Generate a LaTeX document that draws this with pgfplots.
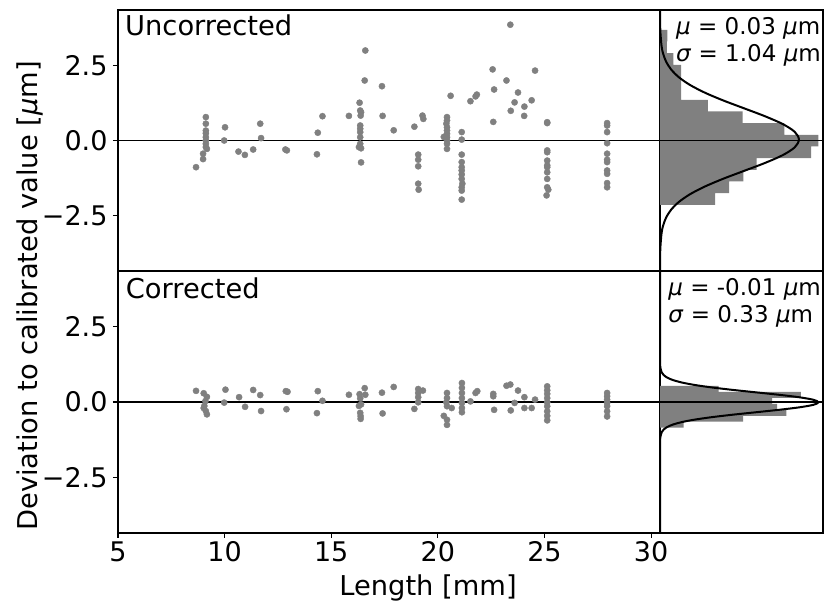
\documentclass[border=0pt]{standalone}
\usepackage{fontspec}
\setmainfont{DejaVu Sans}
\usepackage{pgfplots}
\pgfplotsset{compat=1.18}
\definecolor{dotgray}{HTML}{808080}

\pgfplotsset{
  panel/.style={
    scale only axis,
    axis line style={black, line width=1.1pt},
    every tick/.style={black, line width=1.1pt},
    tick align=outside,
    major tick length=5pt,
    ticklabel style={font=\fontsize{27}{32}\selectfont},
    ymin=-4.35, ymax=4.35,
  },
  scatterpanel/.style={panel, width=542pt, xmin=5, xmax=30.42,
    ytick={-2.5,0,2.5}, yticklabels={−2.5,0.0,2.5}, ytick pos=left,
    yticklabel style={xshift=-2pt}},
  histpanel/.style={panel, width=163pt, xmin=0, xtick=\empty, ytick=\empty},
  dots/.style={only marks, mark=*, mark size=3.1pt,
    mark options={fill=dotgray, draw=dotgray}},
  zeroline/.style={black, line width=1.5pt},
}

\begin{document}
\begin{tikzpicture}
\useasboundingbox (0,0) rectangle (824pt,607pt);

% top: uncorrected
\begin{axis}[scatterpanel, at={(118pt,336pt)}, anchor=south west, height=261pt, xtick=\empty]
\addplot[zeroline] coordinates {(5,0) (30.42,0)};
\addplot[dots] coordinates {
(8.66,-0.89)
(9.12,0.78) (9.12,0.56) (9.12,0.33) (9.12,0.24) (9.12,0.11) (9.12,0.00)
(9.12,-0.11) (9.12,-0.22) (9.17,-0.28) (8.99,-0.44) (8.99,-0.62)
(10.02,0.44) (9.98,0.00) (10.65,-0.37) (10.95,-0.48) (11.34,-0.30)
(11.67,0.56) (11.71,0.08) (12.85,-0.30) (12.92,-0.33)
(14.33,-0.46) (14.37,0.26) (14.59,0.81) (15.83,0.82)
(16.33,1.26) (16.36,1.00) (16.40,0.94) (16.38,0.83) (16.36,0.50) (16.36,0.39)
(16.36,0.28) (16.36,0.11) (16.36,-0.11) (16.30,-0.22) (16.40,-0.26) (16.40,-0.73)
(16.60,3.00) (16.57,2.00) (17.38,1.81) (17.41,0.82) (17.93,0.34) (18.90,0.46)
(19.28,0.83) (19.32,0.72)
(19.08,-0.47) (19.08,-0.64) (19.08,-0.86) (19.08,-1.44) (19.10,-1.64)
(20.43,0.78) (20.43,0.67) (20.40,0.56) (20.43,0.44) (20.43,0.33) (20.43,0.22)
(20.43,0.11) (20.28,0.12) (20.43,0.00) (20.43,-0.11) (20.43,-0.28)
(20.60,1.49)
(21.12,0.28) (21.12,0.03) (21.12,-0.47) (21.12,-0.72) (21.12,-0.89) (21.12,-1.00)
(21.12,-1.13) (21.12,-1.28) (21.15,-1.44) (21.12,-1.56) (21.12,-1.67) (21.12,-1.97)
(21.53,1.31) (21.77,1.47) (21.83,1.53)
(22.57,2.37) (22.64,1.70) (22.60,0.62)
(23.40,3.86) (23.22,2.00) (23.76,1.60) (23.60,1.27) (23.42,0.99)
(24.06,1.13) (24.05,0.82) (24.40,1.34) (24.56,2.33)
(25.13,0.61) (25.13,0.58) (25.13,-0.33) (25.13,-0.39) (25.13,-0.67) (25.13,-0.83)
(25.13,-0.89) (25.13,-1.06) (25.13,-1.28) (25.13,-1.56) (25.18,-1.64) (25.10,-1.83)
(27.94,0.58) (27.94,0.50) (27.94,0.28) (27.94,-0.09) (27.94,-0.44) (27.94,-0.64)
(27.94,-0.72) (27.94,-1.00) (27.94,-1.11) (27.94,-1.42) (27.94,-1.56)
};
\end{axis}

% bottom: corrected
\begin{axis}[scatterpanel, at={(118pt,74pt)}, anchor=south west, height=262pt,
  xtick={5,10,15,20,25,30}, xticklabels={5,10,15,20,25,30}, xtick pos=bottom]
\addplot[zeroline] coordinates {(5,0) (30.42,0)};
\addplot[dots] coordinates {
(8.66,0.37)
(9.02,0.29) (9.17,0.17) (9.10,0.03) (9.05,-0.13) (9.02,-0.20) (9.12,-0.30) (9.17,-0.41)
(10.04,0.41) (9.98,-0.02) (10.68,0.16) (10.96,-0.16) (11.34,0.40)
(11.67,0.23) (11.71,-0.30) (12.87,0.36) (12.95,0.34) (12.90,-0.24)
(14.33,-0.37) (14.37,0.36) (14.59,0.04) (15.83,0.24)
(16.33,0.26) (16.36,0.12) (16.30,-0.13) (16.40,-0.08) (16.36,-0.36) (16.38,-0.47)
(16.38,-0.56) (16.60,0.24) (16.57,0.46)
(17.38,0.31) (17.41,-0.38) (17.93,0.50) (18.90,-0.23)
(19.08,0.43) (19.30,0.38) (19.08,0.30) (19.08,0.16) (19.08,-0.01)
(20.43,0.30) (20.43,0.13) (20.40,-0.01) (20.65,-0.20) (20.43,-0.14)
(20.28,-0.46) (20.43,-0.59) (20.43,-0.76)
(21.13,0.63) (21.13,0.47) (21.13,0.30) (21.13,0.13) (21.13,-0.03) (21.13,-0.20) (21.13,-0.34)
(21.53,0.02) (21.77,0.30) (21.85,0.36)
(22.60,0.27) (22.60,0.19) (22.64,-0.26)
(23.22,0.54) (23.40,0.58) (23.76,0.38) (23.60,-0.03) (23.42,-0.28)
(24.06,0.16) (24.06,-0.20) (24.40,-0.20) (24.56,0.08)
(25.13,0.52) (25.13,0.39) (25.13,0.27) (25.13,0.13) (25.13,-0.01) (25.13,-0.14)
(25.13,-0.31) (25.13,-0.46) (25.13,-0.61)
(27.94,0.30) (27.94,0.19) (27.94,0.08) (27.94,-0.03) (27.94,-0.14) (27.94,-0.31) (27.94,-0.48)
};
\end{axis}

% top histogram
\begin{axis}[histpanel, at={(660pt,336pt)}, anchor=south west, height=261pt, xmax=0.45]
\addplot[xbar interval, fill=dotgray, draw=none] coordinates {
(0.152,-2.143) (0.191,-1.754) (0.230,-1.365) (0.267,-0.976) (0.417,-0.587)
(0.437,-0.199) (0.343,0.190) (0.228,0.579) (0.132,0.968) (0.058,1.357)
(0.058,1.746) (0.058,2.135) (0.037,2.524) (0.019,2.913) (0.020,3.302) (0,3.690)
};
\addplot[black, line width=2pt, smooth] coordinates {
(0,-4.35) (0.0000568,-4.338) (0.000129,-4.13) (0.00084,-3.61) (0.00426,-3.09)
(0.00875,-2.83) (0.01684,-2.57) (0.03053,-2.31) (0.0519,-2.05) (0.0830,-1.79)
(0.1246,-1.53) (0.1756,-1.27) (0.2327,-1.01) (0.2895,-0.75) (0.3385,-0.49)
(0.3718,-0.23) (0.3836,0.03) (0.3718,0.29) (0.3385,0.55) (0.2895,0.81)
(0.2327,1.07) (0.1756,1.33) (0.1246,1.59) (0.0830,1.85) (0.0519,2.11)
(0.03053,2.37) (0.01684,2.63) (0.00875,2.89) (0.00426,3.15) (0.00084,3.67)
(0.000129,4.19) (0.0000568,4.35)
};
\addplot[zeroline] coordinates {(0,0) (0.45,0)};
\end{axis}

% bottom histogram
\begin{axis}[histpanel, at={(660pt,74pt)}, anchor=south west, height=262pt, xmax=1.244]
\addplot[xbar interval, fill=dotgray, draw=none] coordinates {
(0.180,-0.853) (0.634,-0.655) (0.964,-0.457) (0.893,-0.259) (0.855,-0.061)
(1.076,0.137) (0.447,0.335) (0,0.533)
};
\addplot[black, line width=2pt, smooth] coordinates {
(0,-4.35) (0.000179,-1.396) (0.000405,-1.33) (0.00265,-1.165) (0.01342,-1.0)
(0.02756,-0.9175) (0.05307,-0.835) (0.0962,-0.7525) (0.1636,-0.67) (0.2615,-0.5875)
(0.3925,-0.505) (0.5534,-0.4225) (0.7332,-0.34) (0.9125,-0.2575) (1.0669,-0.175)
(1.1717,-0.0925) (1.2089,-0.01) (1.1717,0.0725) (1.0669,0.155) (0.9125,0.2375)
(0.7332,0.32) (0.5534,0.4025) (0.3925,0.485) (0.2615,0.5675) (0.1636,0.65)
(0.0962,0.7325) (0.05307,0.815) (0.02756,0.8975) (0.01342,0.98) (0.00265,1.145)
(0.000405,1.31) (0.000179,1.376) (0,4.35)
};
\addplot[zeroline] coordinates {(0,0) (1.244,0)};
\end{axis}

% panel texts
\begin{scope}[every node/.style={inner sep=0pt, font=\fontsize{27.3}{32}\selectfont}]
\node[anchor=base west] at (125pt,571.3pt) {Uncorrected};
\node[anchor=base west] at (125.7pt,308.7pt) {Corrected};
\node[rotate=90] at (30pt,311pt) {Deviation to calibrated value [\textit{μ}m]};
\node[anchor=base] at (428pt,11pt) {Length [mm]};
\end{scope}
\begin{scope}[every node/.style={inner sep=0pt, font=\fontsize{23}{26.7}\selectfont}]
\node[anchor=base east] at (821pt,572pt)
  {\begin{tabular}[t]{@{}l@{}}\textit{μ} = 0.03 \textit{μ}m\\\textit{σ} = 1.04 \textit{μ}m\end{tabular}};
\node[anchor=base east] at (821pt,311pt)
  {\begin{tabular}[t]{@{}l@{}}\textit{μ} = -0.01 \textit{μ}m\\\textit{σ} = 0.33 \textit{μ}m\end{tabular}};
\end{scope}
\end{tikzpicture}
\end{document}
